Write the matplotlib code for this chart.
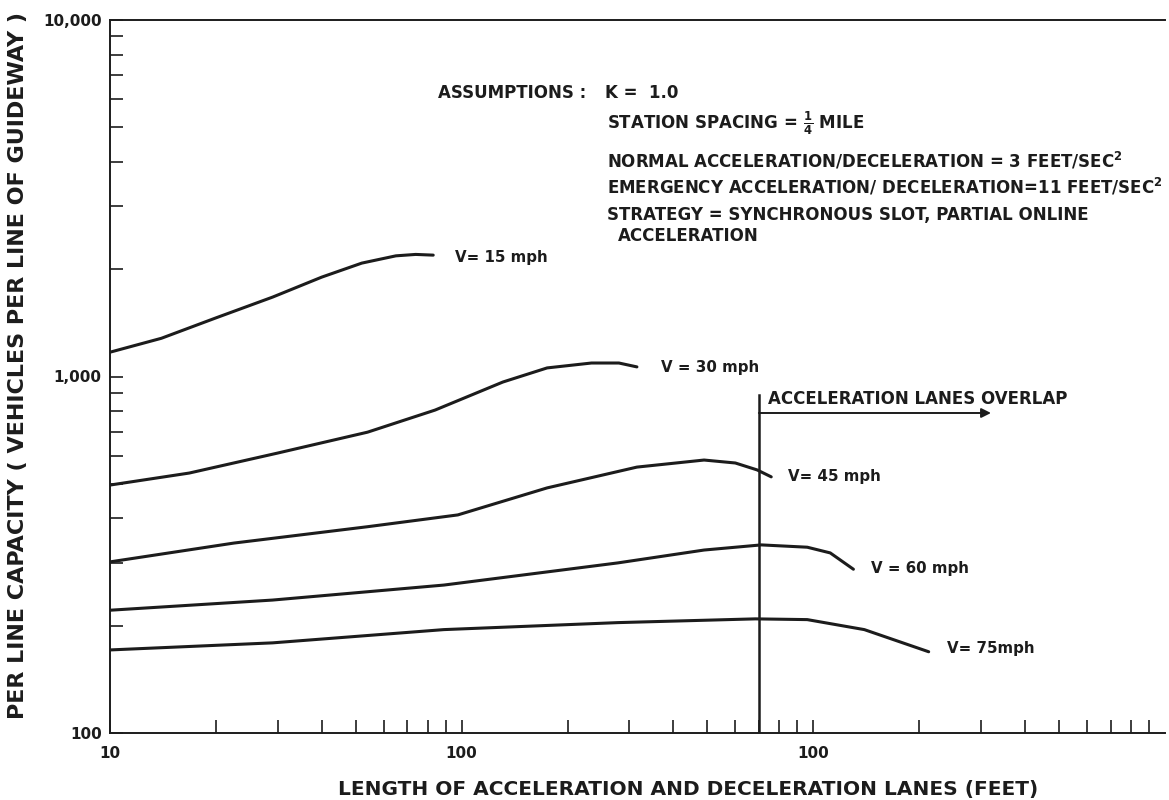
import matplotlib
matplotlib.use("Agg")
import matplotlib.pyplot as plt
from matplotlib.ticker import FixedLocator, NullFormatter, FixedFormatter

plt.rcParams['font.family'] = ['DejaVu Sans']
plt.rcParams['mathtext.fontset'] = 'dejavusans'

# ========= data ============================================================
# x: length of accel/decel lanes (feet), y: capacity (vehicles per line)
len_15 = [10, 14, 20, 29, 40, 52, 65, 74, 83]
cap_15 = [1170, 1280, 1460, 1670, 1900, 2080, 2180, 2200, 2190]

len_30 = [10, 16.8, 30, 54, 84, 131, 175, 234, 280, 315]
cap_30 = [496, 536, 610, 698, 805, 965, 1057, 1091, 1091, 1064]

len_45 = [10, 22.5, 54, 97.5, 175, 315, 489, 600, 692, 759]
cap_45 = [302, 341, 379, 409, 487, 557, 583, 572, 547, 523]

len_60 = [10, 29, 89, 278, 489, 711, 961, 1117, 1300]
cap_60 = [221, 236, 260, 300, 326, 337, 332, 320, 288]

len_75 = [10, 29, 89, 278, 684, 961, 1396, 2128]
cap_75 = [171, 179, 195, 204, 209, 208, 195, 169]

speeds = ["V= 15 mph", "V = 30 mph", "V= 45 mph", "V = 60 mph", "V= 75mph"]

overlap_len = 700      # where acceleration lanes start to overlap
overlap_top = 890
overlap_arrow_end = 3200
overlap_arrow_cap = 790

x_major = [10, 100, 1000]
x_major_labels = ["10", "100", "100"]
y_major = [100, 1000, 10000]
y_major_labels = ["100", "1,000", "10,000"]
# ============================================================================

INK = "#1c1c1c"
W, H = 1169, 800


def fx(px):
    return px / W


def fy(py):
    return 1 - py / H


fig = plt.figure(figsize=(W / 100, H / 100), dpi=100)
ax = fig.add_axes([fx(110), fy(733), fx(1165) - fx(110), fy(20) - fy(733)])

ax.set_xscale("log")
ax.set_yscale("log")
ax.set_xlim(10, 10000)
ax.set_ylim(100, 10000)

series = [(len_15, cap_15), (len_30, cap_30), (len_45, cap_45),
          (len_60, cap_60), (len_75, cap_75)]
for xs, ys in series:
    ax.plot(xs, ys, color=INK, lw=2.2, solid_capstyle="round")

# curve labels, just right of each curve end
label_pos = [(96, 2150), (369, 1063), (849, 523), (1462, 290), (2392, 173)]
for name, (lx, ly) in zip(speeds, label_pos):
    ax.text(lx, ly, name, fontsize=10.8, fontweight="bold", color=INK,
            va="center", ha="left")

# overlap marker
ax.plot([overlap_len, overlap_len], [100, overlap_top], color=INK, lw=1.8)
ax.annotate("", xy=(overlap_arrow_end, overlap_arrow_cap),
            xytext=(overlap_len, overlap_arrow_cap),
            arrowprops=dict(arrowstyle="-|>", color=INK, lw=1.4,
                            mutation_scale=14, shrinkA=0, shrinkB=0))
ax.text(745, 815, "ACCELERATION LANES OVERLAP", fontsize=12,
        fontweight="bold", color=INK, ha="left", va="bottom")

# axes styling
ax.spines["right"].set_visible(False)
for side in ["left", "bottom", "top"]:
    ax.spines[side].set_color(INK)
    ax.spines[side].set_linewidth(1.4)

ax.xaxis.set_major_locator(FixedLocator(x_major))
ax.xaxis.set_major_formatter(FixedFormatter(x_major_labels))
ax.xaxis.set_minor_locator(FixedLocator(
    [m * d for d in (10, 100, 1000) for m in range(2, 10)]))
ax.xaxis.set_minor_formatter(NullFormatter())
ax.yaxis.set_major_locator(FixedLocator(y_major))
ax.yaxis.set_major_formatter(FixedFormatter(y_major_labels))
ax.yaxis.set_minor_locator(FixedLocator(
    [m * d for d in (100, 1000) for m in range(2, 10)]))
ax.yaxis.set_minor_formatter(NullFormatter())

ax.tick_params(axis="both", which="both", direction="in", colors=INK,
               width=1.2, top=False, right=False, length=9.5)
ax.tick_params(axis="both", which="major", labelsize=11)
ax.tick_params(axis="x", which="major", pad=9)
ax.tick_params(axis="y", which="major", pad=6)
for lab in ax.get_xticklabels() + ax.get_yticklabels():
    lab.set_fontweight("bold")

ax.set_xlabel("LENGTH OF ACCELERATION AND DECELERATION LANES (FEET)",
              fontsize=14.5, fontweight="bold", color=INK)
ax.xaxis.set_label_coords(0.548, -0.066)
ax.set_ylabel("PER LINE CAPACITY ( VEHICLES PER LINE OF GUIDEWAY )",
              fontsize=16, fontweight="bold", color=INK)
ax.yaxis.set_label_coords(-0.078, 0.515)

# assumptions block
note = dict(fontsize=12, fontweight="bold", color=INK, va="center", ha="left")
fig.text(fx(438), fy(93), "ASSUMPTIONS :", **note)
fig.text(fx(605), fy(93), "K =  1.0", **note)
fig.text(fx(607), fy(123), r"STATION SPACING = $\mathbf{\frac{1}{4}}$ MILE", **note)
fig.text(fx(607), fy(161),
         r"NORMAL ACCELERATION/DECELERATION = 3 FEET/SEC$^{\mathbf{2}}$", **note)
fig.text(fx(607), fy(187),
         r"EMERGENCY ACCELERATION/ DECELERATION=11 FEET/SEC$^{\mathbf{2}}$", **note)
fig.text(fx(607), fy(215), "STRATEGY = SYNCHRONOUS SLOT, PARTIAL ONLINE", **note)
fig.text(fx(618), fy(236), "ACCELERATION", **note)

fig.savefig("out.png", dpi=100)
